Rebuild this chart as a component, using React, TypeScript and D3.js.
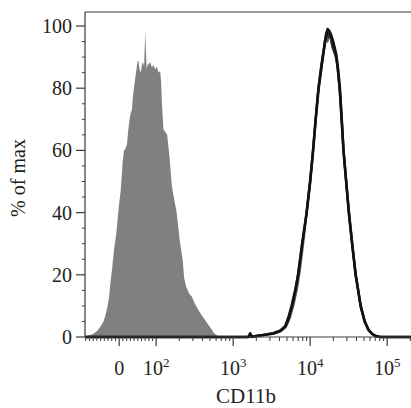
import React from "react";
import * as d3 from "d3";

// ---------- data ----------
// Isotype control (filled grey histogram): fluorescence value, % of max
const isoFluor = [
  -92, -84, -70, -59, -51, -43, -38, -32, -27, -24, -19, -14, -8, -4, 0, 4, 7, 9, 13, 17,
  21, 24, 28, 31, 34, 37.5, 43, 47.5, 50, 52, 55, 58, 61, 64, 67, 69, 70, 72, 74, 77,
  79, 83, 88, 92.8, 97, 102, 107, 112.7, 116, 118.6, 124.4, 131, 139, 149, 160, 184.6,
  202, 221, 231, 245, 268, 290, 321, 354, 390, 432, 473, 529, 566, 613, 640,
];
const isoPct = [
  0, 0.5, 1, 2, 3.2, 4.8, 6.5, 9.4, 13, 17, 22, 28, 33, 38, 43, 47, 52, 56, 60, 60.5,
  62, 66, 70, 72, 73, 78, 83, 87, 89, 88.5, 86, 85, 87.5, 88.5, 87, 94, 98.5, 92, 86, 88,
  87.5, 88.5, 86.7, 87.5, 86, 87, 85, 85.6, 82, 75.5, 66.8, 66, 65, 58, 48.5, 40,
  31.3, 24.8, 19, 16.2, 14, 13, 10.5, 8.7, 7, 5.5, 4, 2.3, 1.2, 0.6, 0,
];

// CD11b-stained samples (overlaid outlines)
const sampleAFluor = [
  -92, 1450, 1580, 1663, 1750, 2241, 2700, 3307, 4078, 4734, 5180, 5752, 6390, 6990, 7869,
  9010, 10000, 10940, 11790, 12900, 13890, 14880, 15900, 16880, 17650, 18800, 19890, 21770,
  23100, 24300, 25650, 27070, 29340, 31810, 35120, 38980, 45280, 51040, 57160, 63860, 69850,
  81100, 262144,
];
const sampleAPct = [
  0, 0, 0, 1.2, 0, 0.5, 0.8, 1.2, 2, 3.5, 6, 10, 15, 20, 30,
  40, 50, 60, 70, 80, 86, 91.5, 96, 99, 98.5, 97, 95, 91,
  86, 80, 70, 60, 50, 40, 30, 20, 10, 5, 2.3, 1, 0.4,
  0, 0,
];
const sampleBFluor = [
  -92, 1500, 2400, 3300, 4100, 4800, 5250, 5800, 6400, 7000, 7800, 8900, 9900, 10800, 11700,
  12700, 13700, 14600, 15500, 16300, 17200, 18000, 19200, 20500, 21900, 23300, 24600, 25900,
  27300, 29600, 32100, 35400, 39300, 45600, 51500, 57500, 64500, 72000, 82000, 262144,
];
const sampleBPct = [
  0, 0, 0.6, 1, 1.8, 3.2, 5.5, 9.5, 14.5, 20.5, 29, 39, 49, 59, 69,
  79, 85, 90, 95, 97.5, 96.5, 98, 94, 92, 90, 84, 78, 69,
  59, 49, 39, 29, 19.5, 9.5, 4.8, 2.2, 0.9, 0.3, 0, 0,
];
const sampleCFluor = [
  -92, 1600, 2600, 3500, 4300, 5000, 5500, 6100, 6800, 7400, 8200, 9100, 10100, 11000, 11900,
  12900, 14000, 15200, 16100, 16800, 17600, 18600, 19600, 21200, 22700, 24000, 25400, 26800,
  29000, 31400, 34700, 38500, 44800, 50600, 56800, 63000, 70000, 80000, 262144,
];
const sampleCPct = [
  0, 0, 0.8, 1.3, 2.3, 4, 6.5, 10.5, 16, 22, 31, 41, 51, 61, 71,
  81, 88, 93, 98, 95, 97, 96, 93, 90.5, 87, 80, 71, 62,
  52, 42, 31.5, 21, 11, 5.5, 2.5, 1.1, 0.4, 0, 0,
];

// axis ticks
const xMajorTicks = [0, 100, 1000, 10000, 100000];
const xTickBase = ["0", "10", "10", "10", "10"];
const xTickExp = ["", "2", "3", "4", "5"];
const yMajorTicks = [0, 20, 40, 60, 80, 100];
const X_MIN = -92;
const X_MAX = 262144;
const Y_TOP = 104.5;

// ---------- layout ----------
const W = 411;
const H = 408;
const LEFT = 85;
const BASE_Y = 337;
const Y100 = 26;
const DECADE_PX = 77;
const LIN_W = 90; // logicle-like: linear below this value, log above

function logicle(v: number): number {
  if (v >= LIN_W) return Math.log10(v);
  return Math.log10(LIN_W) - (LIN_W - v) / (LIN_W * Math.LN10);
}

const xMinorTicks: number[] = [];
for (let k = 1; k <= 9; k++) {
  xMinorTicks.push(-k * 10, k * 10);
}
for (let e = 2; e <= 5; e++) {
  for (let m = 2; m <= 9; m++) xMinorTicks.push(m * Math.pow(10, e));
}
const yMinorTicks: number[] = [];
for (let v = 5; v <= 100; v += 5) if (v % 20 !== 0) yMinorTicks.push(v);

export default function App() {
  const tMin = logicle(X_MIN);
  const tMax = logicle(X_MAX);
  const tScale = d3
    .scaleLinear()
    .domain([tMin, tMax])
    .range([LEFT, LEFT + (tMax - tMin) * DECADE_PX]);
  const x = (v: number) => tScale(logicle(v));
  const y = d3.scaleLinear().domain([0, 100]).range([BASE_Y, Y100]);
  const yTop = y(Y_TOP);
  const rightEdge = x(X_MAX);

  const area = d3
    .area<[number, number]>()
    .x((d) => x(d[0]))
    .y0(y(0))
    .y1((d) => y(d[1]))
    .curve(d3.curveLinear);
  const line = d3
    .line<[number, number]>()
    .x((d) => x(d[0]))
    .y((d) => y(d[1]))
    .curve(d3.curveLinear);

  const iso = isoFluor.map((v, i) => [v, isoPct[i]] as [number, number]);
  const sA = sampleAFluor.map((v, i) => [v, sampleAPct[i]] as [number, number]);
  const sB = sampleBFluor.map((v, i) => [v, sampleBPct[i]] as [number, number]);
  const sC = sampleCFluor.map((v, i) => [v, sampleCPct[i]] as [number, number]);

  const font = "'Liberation Serif', 'Times New Roman', serif";
  const axisColor = "#3a3a3a";
  const textColor = "#231f20";

  return (
    <svg
      width={W}
      height={H}
      style={{ position: "absolute", left: 0, top: 0, background: "#fff" }}
      fontFamily={font}
    >
      {/* grey isotype histogram */}
      <path d={area(iso) || ""} fill="#808082" stroke="none" />

      {/* overlaid sample outlines */}
      <path d={line(sC) || ""} fill="none" stroke="#5e5e5e" strokeWidth={2.2} strokeLinejoin="round" />
      <path d={line(sB) || ""} fill="none" stroke="#2e2e2e" strokeWidth={2.4} strokeLinejoin="round" />
      <path d={line(sA) || ""} fill="none" stroke="#111" strokeWidth={2.6} strokeLinejoin="round" />

      {/* frame */}
      <line x1={LEFT} x2={rightEdge} y1={yTop} y2={yTop} stroke={axisColor} strokeWidth={1.2} />
      <line x1={LEFT} x2={LEFT} y1={yTop} y2={BASE_Y} stroke={axisColor} strokeWidth={1.2} />
      <line x1={LEFT} x2={rightEdge} y1={BASE_Y} y2={BASE_Y} stroke={axisColor} strokeWidth={1.2} />

      {/* y axis */}
      {yMinorTicks.map((v) => (
        <line key={"ym" + v} x1={LEFT - 3} x2={LEFT} y1={y(v)} y2={y(v)} stroke={axisColor} strokeWidth={1} />
      ))}
      {yMajorTicks.map((v) => (
        <g key={"yM" + v}>
          <line x1={LEFT - 9} x2={LEFT} y1={y(v)} y2={y(v)} stroke={axisColor} strokeWidth={1.2} />
          <text x={LEFT - 13} y={y(v) + 7} textAnchor="end" fontSize={20} fill={textColor}>
            {v}
          </text>
        </g>
      ))}

      {/* x axis */}
      {xMinorTicks.map((v) => (
        <line key={"xm" + v} x1={x(v)} x2={x(v)} y1={BASE_Y} y2={BASE_Y + 4} stroke={axisColor} strokeWidth={1} />
      ))}
      {xMajorTicks.map((v, i) => (
        <g key={"xM" + v}>
          <line x1={x(v)} x2={x(v)} y1={BASE_Y} y2={BASE_Y + 9} stroke={axisColor} strokeWidth={1.2} />
          <text x={x(v)} y={375} textAnchor="middle" fontSize={20} fill={textColor}>
            {xTickBase[i]}
            {xTickExp[i] ? (
              <tspan dy={-8} fontSize={13}>
                {xTickExp[i]}
              </tspan>
            ) : null}
          </text>
        </g>
      ))}

      {/* axis titles */}
      <text x={246} y={403} textAnchor="middle" fontSize={21} fill={textColor}>
        CD11b
      </text>
      <text
        transform={`translate(25, 178) rotate(-90)`}
        textAnchor="middle"
        fontSize={20}
        fill={textColor}
      >
        % of max
      </text>
    </svg>
  );
}
